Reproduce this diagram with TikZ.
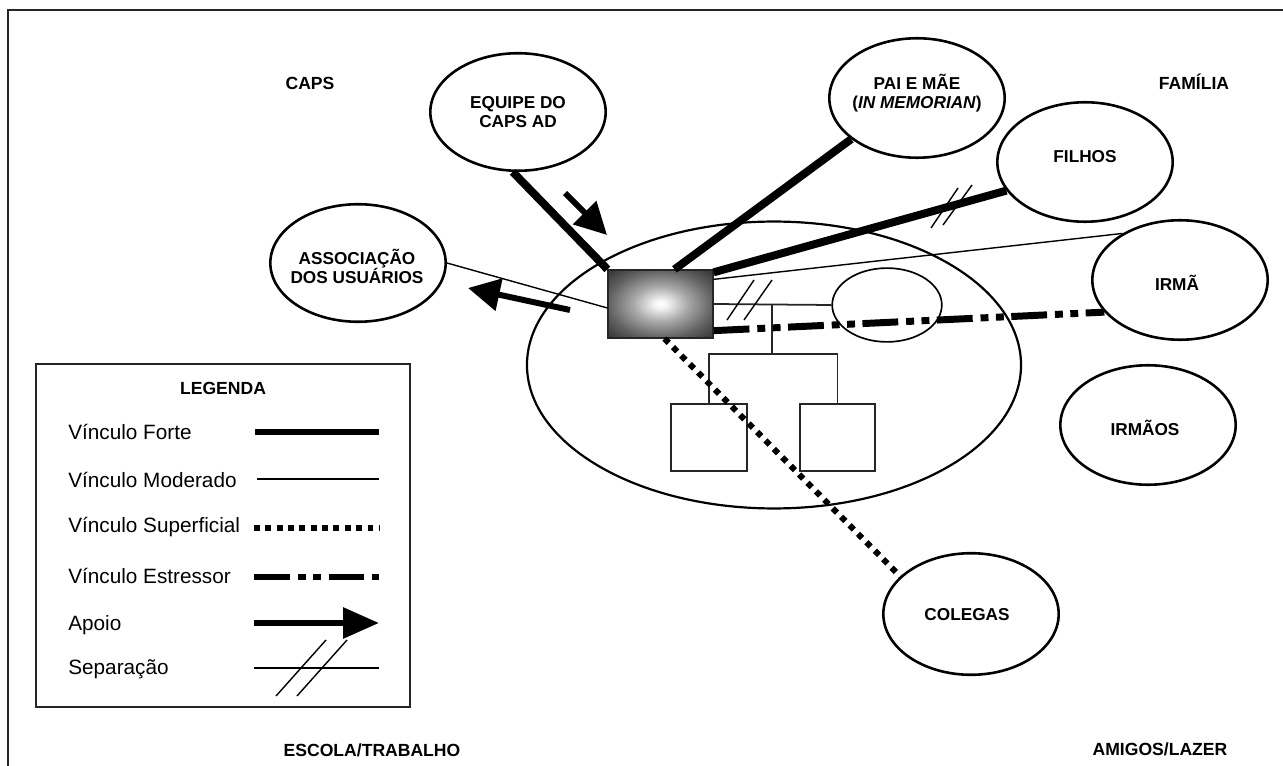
\documentclass[tikz,border=0pt]{standalone}
\usepackage{fontspec}
\setmainfont{Liberation Sans}
\usetikzlibrary{shapes.geometric,arrows.meta,calc}

% gradient for the index person's box: light centre, dark rim
\pgfdeclareradialshading{egoglow}{\pgfpoint{0bp}{0bp}}{%
  color(0bp)=(white); color(3bp)=(white!96!black);
  color(13bp)=(black!34); color(25bp)=(black!62);
  color(35.4bp)=(black!80); color(50bp)=(black!80)}

\begin{document}
% one drawing unit = 0.02cm (= 0.567pt)
\begin{tikzpicture}[x=0.02cm,y=-0.02cm,
  frameline/.style={line width=1.13pt, black!85},
  bubble/.style={ellipse, draw, line width=1.47pt, inner sep=0pt,
    minimum width=99.8pt, minimum height=66.9pt},
  lbl/.style={font=\bfseries\fontsize{9.8}{10.9}\selectfont, align=center, inner sep=0pt},
  qlbl/.style={font=\bfseries\fontsize{10}{12}\selectfont, inner sep=0pt},
  legtxt/.style={font=\fontsize{11.8}{13}\selectfont, inner sep=0pt},
  strong/.style={line width=4.54pt},
  moderate/.style={line width=0.8pt},
  superficial/.style={line width=3.4pt, dash pattern=on 3.4pt off 3.4pt},
  stressor/.style={line width=3.97pt,
    dash pattern=on 20.4pt off 4.5pt on 4.5pt off 4.25pt on 4.5pt off 4.25pt},
  apoio/.style={line width=3.4pt, -{Triangle[length=18.1pt,width=18.1pt]}},
  sepmark/.style={line width=0.8pt},
  genline/.style={line width=1pt, black!85},
  kidbox/.style={draw, black!85, line width=1.1pt, minimum width=43.1pt,
    minimum height=38pt, inner sep=0pt},
]
\useasboundingbox (0,0) rectangle (1283,766);

% outer frame (top and left sides)
\draw[frameline] (8,766) -- (8,10) -- (1283,10);

% quadrant titles
\node[qlbl] (qcaps) at (310,83) {CAPS};
\node[qlbl] (qfam) at (1194,82) {FAMÍLIA};
\node[qlbl] (qesc) at (372,750) {ESCOLA/TRABALHO};
\node[qlbl] (qami) at (1160,749) {AMIGOS/LAZER};

% household
\node[draw, ellipse, line width=1.25pt, inner sep=0pt,
  minimum width=281.2pt, minimum height=163.3pt] (house) at (774,365) {};

% network members
\node[bubble] (equipe) at (518,112) {};
\node[lbl] (equipet) at (518,112) {EQUIPE DO\\CAPS AD};
\node[bubble, minimum height=68pt] (pai) at (917,98) {};
\node[lbl] (pait) at (917,93) {PAI E MÃE\\(\textit{IN MEMORIAN})};
\node[bubble, minimum height=68pt] (filhos) at (1085,162) {};
\node[lbl] (filhost) at (1085,157) {FILHOS};
\node[bubble, minimum height=68pt] (irma) at (1180,280) {};
\node[lbl] (irmat) at (1177,283) {IRMÃ};
\node[bubble, minimum height=68pt] (irmaos) at (1148,425) {};
\node[lbl] (irmaost) at (1145,428) {IRMÃOS};
\node[bubble, minimum height=69.2pt] (colegas) at (971,614) {};
\node[lbl] (colegast) at (967,615) {COLEGAS};
\node[bubble] (asso) at (358,263) {};
\node[lbl] (assot) at (357,266) {ASSOCIAÇÃO\\DOS USUÁRIOS};

% spouse and children inside the household
\node[draw, ellipse, line width=0.95pt, inner sep=0pt,
  minimum width=62.4pt, minimum height=42pt] (spouse) at (887,305) {};
\node[kidbox] (kid1) at (709,437.5) {};
\node[kidbox] (kid2) at (837.5,437.5) {};

% index person
\node[draw=black!85, line width=0.95pt, shading=egoglow, inner sep=0pt,
  minimum width=59.5pt, minimum height=38.5pt] (ego) at (660.5,304) {};

% family tree lines
\coordinate (wed) at (772,304);
\coordinate (drop) at (772,354);
\draw[genline] (ego.east) -- (spouse.west);
\draw[genline] (wed) -- (drop);
\draw[genline] (kid1.north) |- (drop) -| (kid2.north);
\draw[sepmark] (727,320) -- (754,280);
\draw[sepmark] (744,320) -- (772,280);

% ties
\draw[strong] (equipe.-95) -- (ego.north west);
\draw[strong] (pai.212) -- ($(ego.north)+(14,0)$);
\draw[strong] (filhos.200) -- ($(ego.north east)+(0,3)$);
\draw[sepmark] (931,228) -- (958,188);
\draw[sepmark] (943,225) -- (972,185);
\draw[moderate] (irma.141) -- ($(ego.north east)+(0,10)$);
\draw[stressor] ($(ego.south east)+(0,-8)$) -- (irma.203);
\draw[moderate] (asso.east) -- ($(ego.west)+(0,4)$);
\draw[superficial] ($(ego.south)+(4,0)$) -- (colegas.152);

% support arrows
\coordinate (sup1a) at (565,193);
\coordinate (sup1b) at (607,235);
\coordinate (sup2a) at (570,310);
\coordinate (sup2b) at (468,288);
\draw[apoio] (sup1a) -- (sup1b);
\draw[apoio] (sup2a) -- (sup2b);

% legend
\node[draw, black!85, line width=1.13pt, minimum width=213.2pt,
  minimum height=195.6pt, inner sep=0pt] (legend) at (223,535.5) {};
\node[qlbl] (legt) at (223,388) {LEGENDA};

\node[legtxt, anchor=base west] (l1) at (68,439) {Vínculo Forte};
\node[legtxt, anchor=base west] (l2) at (68,487) {Vínculo Moderado};
\node[legtxt, anchor=base west] (l3) at (68,532) {Vínculo Superficial};
\node[legtxt, anchor=base west] (l4) at (68,583) {Vínculo Estressor};
\node[legtxt, anchor=base west] (l5) at (68,630) {Apoio};
\node[legtxt, anchor=base west] (l6) at (68,674) {Separação};

\coordinate (s1a) at (255,432); \coordinate (s1b) at (379,432);
\coordinate (s2a) at (257,479); \coordinate (s2b) at (379,479);
\coordinate (s3a) at (254,528); \coordinate (s3b) at (379,528);
\coordinate (s4a) at (254,577); \coordinate (s4b) at (379,577);
\coordinate (s5a) at (254,623); \coordinate (s5b) at (379,623);
\coordinate (s6a) at (254,668); \coordinate (s6b) at (379,668);
\draw[strong, line width=3.97pt] (s1a) -- (s1b);
\draw[moderate] (s2a) -- (s2b);
\draw[superficial, dash pattern=on 3.4pt off 3.06pt] (s3a) -- (s3b);
\draw[stressor] (s4a) -- (s4b);
\draw[line width=3.4pt, -{Triangle[length=20.4pt,width=17pt]}] (s5a) -- (s5b);
\draw[sepmark] (s6a) -- (s6b);
\draw[sepmark] (276,696) -- (326,640);
\draw[sepmark] (297,696) -- (347,640);
\end{tikzpicture}
\end{document}
